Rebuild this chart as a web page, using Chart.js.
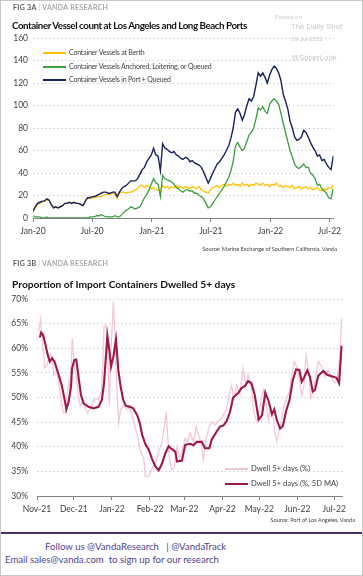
<!DOCTYPE html>
<html>
<head>
<meta charset="utf-8">
<script src="https://cdn.jsdelivr.net/npm/chart.js@4.4.1/dist/chart.umd.min.js"></script>
<style>
  html, body { margin: 0; padding: 0; background: #fff; }
  #page { position: relative; width: 363px; height: 576px; overflow: hidden; font-family: Lato, "Open Sans", sans-serif; }
  #page canvas { position: absolute; left: 0; }
  .txt { position: absolute; white-space: nowrap; line-height: 1; }
  .fig { font-size: 7px; font-weight: bold; color: #595959; letter-spacing: 0.3px; }
  .fig .bar { color: #bfbfbf; font-weight: normal; }
  .fig .house { color: #a6a6a6; }
  .title { font-size: 10.2px; font-weight: bold; color: #111; }
  .src { font-size: 5.6px; color: #404040; }
  .legend { font-size: 7.6px; color: #404040; }
  .legend.top { font-size: 7px; letter-spacing: -0.2px; }
  .legend i { display: inline-block; width: 23px; height: 1.6px; vertical-align: middle; margin-right: 3px; }
  .wm { font-family: "Liberation Sans", Arial, sans-serif; color: #c9c9c9; }
  .foot { font-size: 9.6px; color: #4f3f8f; }
  #rule { position: absolute; left: 0; top: 532px; width: 363px; height: 2px; background: #4a2d6e; }
  #frame { position: absolute; left: 0; top: 0; width: 361px; height: 574px; border: 1px solid #c8c8c8; pointer-events: none; }
</style>
</head>
<body>
<div id="page">
  <canvas id="vesselChart" width="363" height="250" style="top:0"></canvas>
  <canvas id="dwellChart" width="363" height="280" style="top:250px"></canvas>

  <div class="txt fig" style="left:13px;top:4px">FIG 3A <span class="bar">|</span> <span class="house">VANDA RESEARCH</span></div>
  <div class="txt title" style="left:12px;top:21px;font-size:9.8px;letter-spacing:-0.45px">Container Vessel count at Los Angeles and Long Beach Ports</div>

  <div class="txt wm" style="left:275px;top:14px;font-size:6px">Posted on</div>
  <div class="txt wm" style="left:291px;top:23px;font-size:7.8px">The Daily Shot</div>
  <div class="txt wm" style="left:291px;top:36px;font-size:6px">19-Jul-2022</div>
  <div class="txt wm" style="left:291px;top:54px;font-size:7.8px">@SoberLook</div>

  <div class="txt legend top" style="left:43px;top:49px"><i style="background:#ffc000"></i>Container Vessels at Berth</div>
  <div class="txt legend top" style="left:43px;top:63px"><i style="background:#3a9f3c"></i>Container Vessels Anchored, Loitering, or Queued</div>
  <div class="txt legend top" style="left:43px;top:76px"><i style="background:#17225e"></i>Container Vessels in Port + Queued</div>

  <div class="txt src" style="right:26px;top:246px">Source: Marine Exchange of Southern California, Vanda</div>

  <div class="txt fig" style="left:13px;top:260px">FIG 3B <span class="bar">|</span> <span class="house">VANDA RESEARCH</span></div>
  <div class="txt title" style="left:12px;top:279px">Proportion of Import Containers Dwelled 5+ days</div>

  <div class="txt legend" style="left:225px;top:465px"><i style="background:#f4c7d4"></i>Dwell 5+ days (%)</div>
  <div class="txt legend" style="left:225px;top:480px"><i style="background:#9e1848;height:2px"></i>Dwell 5+ days (%, 5D MA)</div>

  <div class="txt src" style="right:8px;top:517px">Source: Port of Los Angeles, Vanda</div>

  <div id="rule"></div>
  <div class="txt foot" style="left:45px;top:542px">Follow us @VandaResearch &nbsp;&nbsp;| @VandaTrack</div>
  <div class="txt foot" style="left:5px;top:555px">Email sales@vanda.com &nbsp;to sign up for our research</div>
  <div id="frame"></div>
</div>

<script>
// FIG 3A: weekly readings, week 0 = 1 Jan 2020
const vesselTickDays = [0, 182, 366, 547, 731, 912];
const vesselTickLabels = ['Jan-20', 'Jul-20', 'Jan-21', 'Jul-21', 'Jan-22', 'Jul-22'];

const atBerth = [
  5, 9, 12, 13, 14, 15, 16, 16, 12, 9, 10, 9, 10, 11, 13, 13, 14, 13, 14, 13,
  13, 12, 11, 15, 18, 17, 18, 18, 19, 19, 19, 20, 21, 21, 21, 22, 21,
  18, 22, 23, 23, 22, 23, 23, 24, 25, 26, 29, 29, 27, 29, 28, 26, 27, 25, 25, 23,
  29, 27, 28, 26, 28, 27, 29, 27, 28, 26, 28, 27, 26, 28, 27, 26, 28, 25, 24, 23,
  22, 25, 27, 28, 29, 27, 29, 30, 28, 30, 29, 31, 29, 30, 28, 31, 29, 30, 28, 30,
  29, 31, 30, 29, 31, 29, 30, 28, 30, 29, 31, 28, 29, 27, 29, 28, 27, 29, 26, 27,
  28, 26, 27, 28, 26, 27, 25, 26, 27, 25, 24, 26, 25, 27, 26, 29
];
const anchoredQueued = [
  2, 1, 1, 1, 0, 0, 1, 0, 0, 0, 0, 0, 0, 0, 0, 0, 0, 0, 0, 0,
  0, 0, 0, 0, 0, 1, 1, 1, 2, 2, 3, 2, 1, 1, 1, 1, 2,
  1, 1, 3, 5, 7, 8, 10, 9, 8, 9, 10, 14, 18, 21, 25, 30, 35, 31, 30, 19,
  38, 35, 34, 33, 32, 30, 27, 26, 24, 23, 25, 25, 24, 24, 22, 22, 20, 19, 17, 13,
  9, 10, 13, 16, 19, 22, 25, 28, 32, 36, 42, 50, 64, 67, 63, 60,
  62, 68, 74, 76, 80, 88, 98, 96, 99, 95, 93, 101, 104, 106,
  104, 101, 93, 84, 76, 68, 60, 54, 48, 45, 44, 46, 48, 45,
  45, 40, 38, 35, 29, 30, 26, 24, 22, 18, 17, 26
];
const inPortQueued = [
  6, 10, 13, 14, 15, 15, 17, 16, 12, 9, 10, 9, 10, 11, 13, 13, 14, 13, 14, 13,
  13, 12, 11, 15, 18, 18, 19, 19, 20, 21, 22, 23, 23, 22, 22, 23, 23,
  19, 23, 26, 28, 29, 31, 33, 33, 33, 35, 39, 43, 45, 50, 53, 56, 62, 56, 55, 42,
  66, 62, 61, 59, 58, 59, 56, 55, 53, 52, 54, 53, 50, 51, 49, 48, 47, 45, 41, 36,
  31, 35, 40, 44, 48, 50, 53, 56, 60, 64, 71, 80, 94, 97, 93, 87,
  92, 100, 106, 104, 108, 118, 129, 126, 129, 125, 120, 127, 132, 135,
  133, 129, 122, 110, 104, 97, 86, 80, 72, 69, 70, 72, 78, 76,
  72, 67, 63, 60, 55, 56, 51, 52, 48, 45, 43, 55
];

// FIG 3B: day 0 = 1 Nov 2021
const dwellTickDays = [0, 30, 61, 92, 120, 151, 181, 212, 242];
const dwellTickLabels = ['Nov-21', 'Dec-21', 'Jan-22', 'Feb-22', 'Mar-22', 'Apr-22', 'May-22', 'Jun-22', 'Jul-22'];

const dwellDay = [
  1.5, 2.9, 5, 6.3, 8.3, 10.4, 12.3, 13.6, 15.8, 17.7, 19.6, 21.2, 23.1, 24.5, 25.8, 27.1, 28.7, 30.4, 32, 33.8,
  35.2, 37.4, 39.3, 41.1, 42.7, 44.7, 47.4, 50, 52.8, 54.6, 56.3, 57.3, 58.9, 60.3, 62.2, 63.5, 64.9, 66.5, 68.1, 70.2,
  73, 75.7, 78.8, 81.6, 84.3, 86.9, 88.3, 91, 93.7, 96.4, 99.1, 101.8, 103.1, 105.3, 106.3, 108, 109.9, 111.8, 114, 116.1,
  118, 120.7, 122.5, 124.7, 127.4, 129.6, 131.4, 133.4, 135.5, 137.7, 140.3, 142.3, 144.9, 146.8, 149, 151.7, 154.4, 156.5, 158.5, 160.3,
  162.5, 165.2, 167.8, 170, 171.9, 174.6, 176.5, 178.7, 181.3, 183.2, 184.5, 186.7, 188.6, 189.9, 192.1, 194, 195.4, 197.5, 199.4, 201.3,
  203.4, 205.6, 207.5, 209.4, 211.5, 213.6, 215.6, 217.4, 219.1, 220.9, 222.9, 225, 227.2, 229, 231.8, 234.4, 237.1, 239.9, 242.5, 244.4,
  246.6, 248
];
const dwellPct = [
  63.4, 65.8, 59.8, 56, 56.6, 59, 58.3, 54.6, 55.6, 52.9, 49.5, 47.1, 46.8, 50.2, 53.2, 51.5, 62, 56.3, 54.2, 50.2,
  48.1, 49.5, 47.8, 46.8, 47.5, 48.5, 49.8, 49.5, 51.5, 64.4, 64.7, 61.7, 48.5, 59.8, 69.5, 63, 52.2, 44.8, 47.5, 48.5,
  47.5, 47.8, 45.1, 42.4, 39, 37.7, 34, 34, 35.6, 36.6, 39, 41.1, 43.1, 47.1, 42.4, 37, 35.3, 35.6, 40, 37.7,
  39, 41.7, 41, 42.8, 41, 44.1, 42.4, 41, 37.3, 41.7, 44.1, 45.1, 44.4, 45.1, 45.4, 46.4, 47.8, 50.5, 52.5, 49.8,
  52.5, 50.5, 55.9, 52.5, 54.6, 51.9, 47.1, 45.1, 47.8, 50.5, 51.5, 48.5, 45.4, 48.1, 46.4, 42.4, 41, 43.7, 45.7, 48.5,
  49.8, 51.2, 54.6, 57.3, 56.3, 53.6, 50.5, 52.5, 58.6, 55.9, 49.8, 51.2, 54.6, 57.3, 56.3, 54.2, 55.6, 53.9, 52.9, 53.9,
  58, 66
];

const maDay = [
  2.3, 3.4, 5, 6.9, 8.8, 10.4, 12.3, 14.2, 16.4, 18.5, 20.4, 22.3, 23.9, 25.8, 27.7, 28.5, 30.4, 32, 33.8, 35.8,
  37.9, 41.9, 46, 50, 52.8, 54.6, 56.3, 57.3, 58.9, 60.3, 62.2, 64.3, 66.2, 68.1, 70.2, 72.4, 75.7, 78.3, 81.6, 83.7,
  85.6, 88.3, 91, 93.7, 96.4, 99.1, 101.8, 104.5, 107.2, 109.9, 112.6, 114, 118, 120.7, 124.7, 127.4, 130.1, 134.2, 136.8, 140.3,
  142.3, 146.3, 149, 151.7, 154.4, 157.1, 159.7, 163.8, 166.5, 169.2, 171.9, 174.6, 177.3, 180.5, 183.2, 185.9, 188.6, 191.3, 193.2, 195.4,
  198, 200.2, 202.9, 205.6, 208.3, 211, 213.6, 215.6, 217.4, 220.1, 222.3, 224.5, 226.3, 229, 233.1, 236.3, 239.9, 243.9, 246, 248
];
const maPct = [
  62.2, 63.2, 62.7, 60.7, 58.6, 57.3, 58, 57.3, 55.6, 53.9, 52.2, 49.8, 47.6, 49.2, 52.2, 55.9, 57.6, 57.7, 54.2, 50.5,
  48.8, 48.1, 47.8, 48.1, 49.5, 52.9, 59, 62.5, 59.6, 56.3, 58.3, 61.8, 55.6, 52.2, 49.5, 48.3, 48.1, 47.8, 46.4, 44.8,
  42.4, 40.5, 39.4, 37.5, 36, 35.2, 36.6, 38.7, 40.1, 39.5, 39, 37, 37.2, 40.4, 40.6, 40.3, 41, 41, 39.7, 39.7,
  41.5, 43.1, 44.1, 44.3, 45.2, 47, 50, 50.9, 51.9, 52.3, 53.3, 52.9, 50.5, 45.5, 46.4, 51, 49.3, 46.6, 47.6, 45.3,
  43.7, 44.2, 47.3, 49.5, 53.5, 55.7, 55.6, 53.2, 54, 55.5, 54.2, 51.2, 51.5, 54.4, 55.4, 54.6, 54.3, 54, 52.9, 60.5
];

const AXIS_FONT = { family: 'Lato', size: 8.5 };

function weekly(values) {
  return values.map((v, i) => ({ x: i * 7, y: v }));
}

function paired(days, values) {
  return days.map((d, i) => ({ x: d, y: values[i] }));
}

function lineSet(data, color, width, order) {
  return { data, borderColor: color, borderWidth: width, pointRadius: 0, tension: 0, fill: false, order };
}

function xAxis(min, max, tickDays, tickLabels, height) {
  return {
    type: 'linear', min, max,
    afterBuildTicks: (s) => { s.ticks = tickDays.map(v => ({ value: v })); },
    afterFit: (s) => { s.height = height; },
    ticks: { autoSkip: false, maxRotation: 0, padding: 4, color: '#404040', font: AXIS_FONT, callback: (v, i) => tickLabels[i] },
    grid: { drawOnChartArea: false, drawTicks: true, tickLength: 4, color: '#808080' },
    border: { display: true, color: '#808080', width: 1 }
  };
}

function yAxis(min, max, step, width, pad, fmt) {
  return {
    min, max,
    afterFit: (s) => { s.width = width; },
    ticks: { stepSize: step, padding: pad, color: '#404040', font: AXIS_FONT, callback: fmt },
    grid: { drawTicks: false, color: (ctx) => ctx.tick && ctx.tick.value === min ? 'rgba(0,0,0,0)' : '#cfcfcf' },
    border: { display: false, dash: [1.5, 2.5] }
  };
}

const commonOptions = {
  responsive: false, animation: false, devicePixelRatio: 1,
  plugins: { legend: { display: false }, tooltip: { enabled: false } }
};

new Chart(document.getElementById('vesselChart'), {
  type: 'line',
  data: {
    datasets: [
      lineSet(weekly(atBerth), '#ffc000', 1.3, 2),
      lineSet(weekly(anchoredQueued), '#3a9f3c', 1.3, 1),
      lineSet(weekly(inPortQueued), '#17225e', 1.4, 0)
    ]
  },
  options: {
    ...commonOptions,
    layout: { padding: { top: 38, right: 29.4, bottom: 0, left: 0 } },
    scales: {
      x: xAxis(0, 925, vesselTickDays, vesselTickLabels, 32),
      y: yAxis(0, 160, 20, 33, 5, (v) => v)
    }
  }
});

new Chart(document.getElementById('dwellChart'), {
  type: 'line',
  data: {
    datasets: [
      lineSet(paired(dwellDay, dwellPct), '#f4c7d4', 1.3, 1),
      lineSet(paired(maDay, maPct), '#9e1848', 2.1, 0)
    ]
  },
  options: {
    ...commonOptions,
    layout: { padding: { top: 49, right: 20.2, bottom: 0, left: 0 } },
    scales: {
      x: xAxis(0, 249, dwellTickDays, dwellTickLabels, 34),
      y: yAxis(30, 70, 5, 37, 9, (v) => v + '%')
    }
  }
});
</script>
</body>
</html>
